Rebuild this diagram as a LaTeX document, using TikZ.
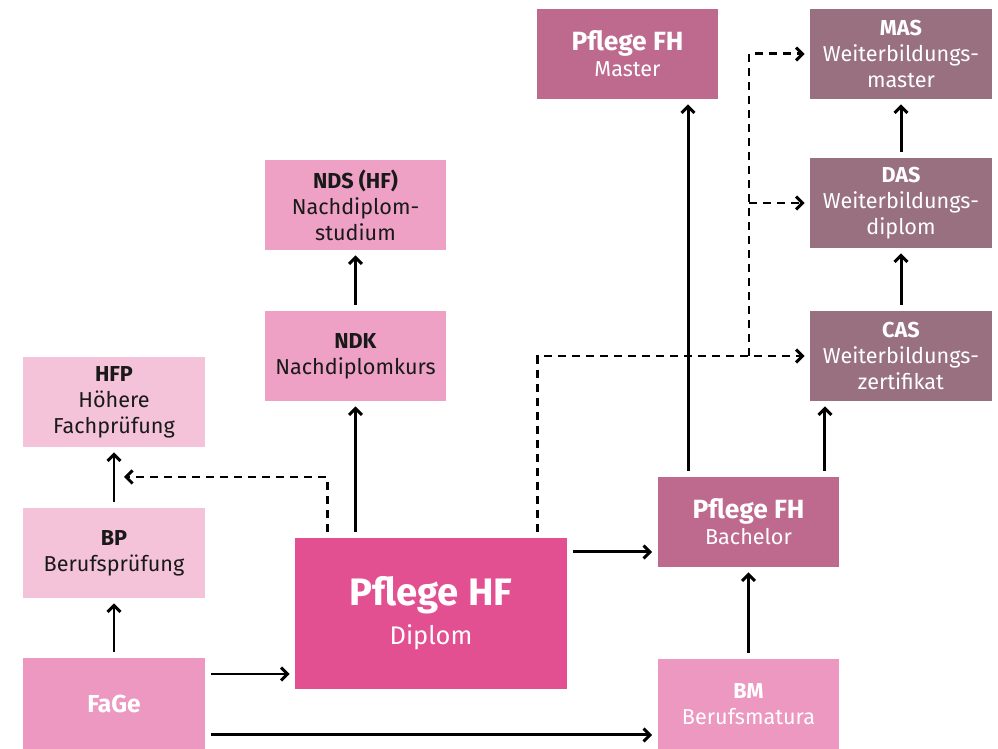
\documentclass[tikz,border=0pt]{standalone}
\usepackage{fontspec}
\setmainfont{Fira Sans}
\usetikzlibrary{arrows.meta}

\definecolor{hellrosa}{HTML}{F4C3DA}
\definecolor{rosa}{HTML}{EEA1C5}
\definecolor{mittelrosa}{HTML}{EC98C0}
\definecolor{magenta}{HTML}{E25092}
\definecolor{altrosa}{HTML}{BE6A8F}
\definecolor{mauve}{HTML}{98707F}

\tikzset{
    box/.style={rectangle, inner sep=0pt, minimum width=3.64cm, minimum height=1.8cm, align=center,
        font=\fontsize{12.3}{14.8}\selectfont},
    hell/.style={box, fill=#1, text=black!90},
    dunkel/.style={box, fill=#1, text=white},
    arr/.style={line width=1.7pt, -{Straight Barb[length=1.3mm,width=2.6mm]}, shorten <=0.12cm, shorten >=0.1cm},
    dasharr/.style={arr, dash pattern=on 0.16cm off 0.12cm}
}

\begin{document}
\begin{tikzpicture}[x=0.02cm, y=-0.02cm]
    \useasboundingbox (0,0) rectangle (998,749);

    % linke Spalte
    \node[hell=hellrosa] (hfp) at (114,402) {\textbf{HFP}\\Höhere\\Fachprüfung};
    \node[hell=hellrosa] (bp) at (114,553) {\textbf{BP}\\Berufsprüfung};
    \node[dunkel=mittelrosa, minimum height=1.82cm] (fage) at (114,703.5) {\fontsize{14}{16}\selectfont\textbf{FaGe}};

    % Nachdiplom
    \node[hell=rosa] (nds) at (355.5,205) {\textbf{NDS (HF)}\\Nachdiplom-\\studium};
    \node[hell=rosa] (ndk) at (355.5,356) {\textbf{NDK}\\Nachdiplomkurs};

    \node[dunkel=magenta, minimum width=5.44cm, minimum height=3.02cm] (hf) at (431,613.5)
        {\fontsize{21.8}{25}\selectfont\textbf{Pflege HF}\\[5pt]\fontsize{14.5}{16}\selectfont Diplom};

    % Fachhochschule
    \node[dunkel=altrosa] (fhma) at (627.5,54) {\fontsize{15}{17}\selectfont\textbf{Pflege FH}\\\fontsize{12.3}{14}\selectfont Master};
    \node[dunkel=altrosa] (fhba) at (748.5,522) {\fontsize{15}{17}\selectfont\textbf{Pflege FH}\\\fontsize{12.3}{14}\selectfont Bachelor};
    \node[dunkel=mittelrosa] (bm) at (748.5,704) {\textbf{BM}\\Berufsmatura};

    % Weiterbildung
    \node[dunkel=mauve] (mas) at (901,54) {\textbf{MAS}\\Weiterbildungs-\\master};
    \node[dunkel=mauve] (das) at (901,203) {\textbf{DAS}\\Weiterbildungs-\\diplom};
    \node[dunkel=mauve] (cas) at (901,356) {\textbf{CAS}\\Weiterbildungs-\\zertifikat};

    \coordinate (hfpin) at (124,477);
    \coordinate (split) at (749,356);

    \draw[arr] (fage) -- (bp);
    \draw[arr] (bp) -- (hfp);
    \draw[arr] (hf.north -| ndk.south) -- (ndk.south);
    \draw[arr] (ndk) -- (nds);
    \draw[arr] ([yshift=0.59cm]fage.east) -- ([yshift=0.59cm]fage.east -| hf.west);
    \draw[arr] ([yshift=-0.63cm]fage.east) -- ([yshift=-0.63cm]fage.east -| bm.west);
    \draw[arr] ([yshift=-0.6cm]fhba.west -| hf.east) -- ([yshift=-0.6cm]fhba.west);
    \draw[arr] (bm) -- (fhba);
    \draw[arr] ([xshift=-1.21cm]fhba.north) -- ([xshift=-1.21cm]fhba.north |- fhma.south);
    \draw[arr] ([xshift=1.53cm]fhba.north) -- ([xshift=1.53cm]fhba.north |- cas.south);
    \draw[arr] (cas) -- (das);
    \draw[arr] (das) -- (mas);

    \draw[dasharr, shorten >=0pt] ([xshift=-2.08cm]hf.north) |- (hfpin);
    \draw[dasharr] ([xshift=2.14cm]hf.north) |- (cas.west);
    \draw[dasharr, shorten <=0pt] (split) |- (mas.west);
    \draw[dasharr, shorten <=0pt] (split |- das.west) -- (das.west);
\end{tikzpicture}
\end{document}
